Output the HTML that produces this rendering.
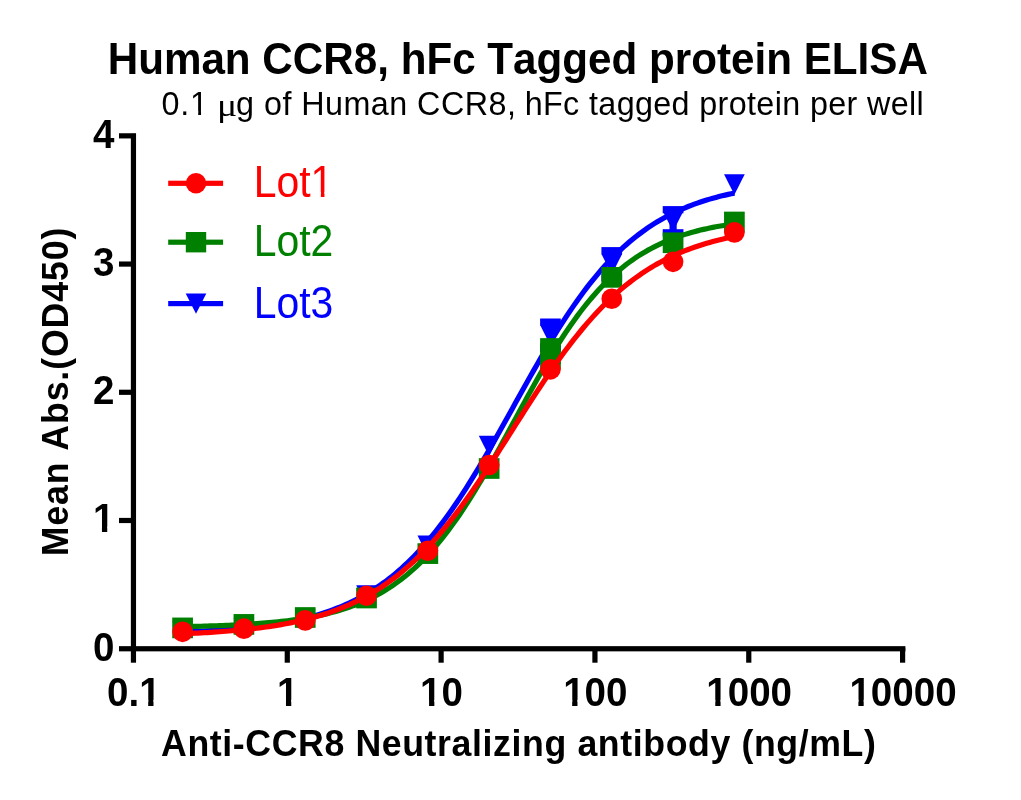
<!DOCTYPE html>
<html lang="en"><head><meta charset="utf-8"><title>Human CCR8, hFc Tagged protein ELISA</title>
<style>html,body{margin:0;padding:0;background:#fff}svg{display:block}text{font-family:"Liberation Sans",Arial,sans-serif;fill:#000;font-kerning:none}.b{font-weight:bold}</style></head><body>
<svg width="1021" height="800" viewBox="0 0 1021 800">
<rect width="1021" height="800" fill="#fff"/>
<text class="b" x="107.68" y="74.00" font-size="44.3" textLength="820.23" lengthAdjust="spacingAndGlyphs">Human CCR8, hFc Tagged protein ELISA</text>
<text y="115.2" font-size="32.3" xml:space="preserve"><tspan x="161.54" style="letter-spacing:0.8px">0.1 </tspan><tspan x="217.0" dy="1" font-size="32" textLength="20.2" lengthAdjust="spacingAndGlyphs" style="font-family:'Liberation Serif',serif">μ</tspan><tspan x="236.11" dy="-1" style="letter-spacing:0.462px">g of Human CCR8, </tspan><tspan x="524.71" style="letter-spacing:0.363px">hFc tagged protein per well</tspan></text>
<rect x="191.74" y="111.09" width="6.46" height="5.01" fill="#fff"/>
<rect x="201.05" y="111.09" width="6.21" height="5.01" fill="#fff"/>
<g fill="#0000ff" stroke="none">
<path d="M182.60 631.99 L185.68 631.87 L188.77 631.75 L191.85 631.62 L194.93 631.48 L198.01 631.33 L201.10 631.18 L204.18 631.02 L207.26 630.86 L210.34 630.68 L213.43 630.50 L216.51 630.31 L219.59 630.10 L222.67 629.89 L225.76 629.67 L228.84 629.44 L231.92 629.19 L235.00 628.93 L238.09 628.67 L241.17 628.38 L244.25 628.09 L247.34 627.78 L250.42 627.45 L253.50 627.11 L256.58 626.75 L259.67 626.37 L262.75 625.98 L265.83 625.57 L268.91 625.14 L272.00 624.68 L275.08 624.21 L278.16 623.71 L281.24 623.19 L284.33 622.64 L287.41 622.07 L290.49 621.47 L293.57 620.84 L296.66 620.19 L299.74 619.50 L302.82 618.78 L305.91 618.02 L308.99 617.23 L312.07 616.41 L315.15 615.55 L318.24 614.64 L321.32 613.70 L324.40 612.71 L327.48 611.68 L330.57 610.60 L333.65 609.48 L336.73 608.30 L339.81 607.07 L342.90 605.79 L345.98 604.45 L349.06 603.05 L352.14 601.60 L355.23 600.08 L358.31 598.49 L361.39 596.84 L364.47 595.13 L367.56 593.34 L370.64 591.47 L373.72 589.53 L376.81 587.52 L379.89 585.42 L382.97 583.24 L386.05 580.98 L389.14 578.64 L392.22 576.20 L395.30 573.67 L398.38 571.05 L401.47 568.34 L404.55 565.53 L407.63 562.63 L410.71 559.62 L413.80 556.52 L416.88 553.31 L419.96 550.00 L423.04 546.59 L426.13 543.07 L429.21 539.45 L432.29 535.73 L435.38 531.90 L438.46 527.96 L441.54 523.93 L444.62 519.79 L447.71 515.54 L450.79 511.20 L453.87 506.76 L456.95 502.23 L460.04 497.60 L463.12 492.87 L466.20 488.07 L469.28 483.17 L472.37 478.20 L475.45 473.15 L478.53 468.02 L481.61 462.83 L484.70 457.58 L487.78 452.27 L490.86 446.91 L493.95 441.50 L497.03 436.05 L500.11 430.56 L503.19 425.05 L506.28 419.52 L509.36 413.98 L512.44 408.42 L515.52 402.86 L518.61 397.31 L521.69 391.77 L524.77 386.25 L527.85 380.76 L530.94 375.29 L534.02 369.86 L537.10 364.48 L540.18 359.14 L543.27 353.86 L546.35 348.64 L549.43 343.49 L552.52 338.40 L555.60 333.39 L558.68 328.46 L561.76 323.61 L564.85 318.85 L567.93 314.17 L571.01 309.59 L574.09 305.11 L577.18 300.72 L580.26 296.43 L583.34 292.25 L586.42 288.16 L589.51 284.18 L592.59 280.30 L595.67 276.53 L598.75 272.86 L601.84 269.29 L604.92 265.83 L608.00 262.48 L611.08 259.22 L614.17 256.07 L617.25 253.02 L620.33 250.07 L623.42 247.21 L626.50 244.46 L629.58 241.79 L632.66 239.23 L635.75 236.75 L638.83 234.36 L641.91 232.06 L644.99 229.84 L648.08 227.71 L651.16 225.66 L654.24 223.68 L657.32 221.78 L660.41 219.96 L663.49 218.21 L666.57 216.53 L669.65 214.91 L672.74 213.36 L675.82 211.88 L678.90 210.45 L681.99 209.09 L685.07 207.78 L688.15 206.53 L691.23 205.33 L694.32 204.18 L697.40 203.08 L700.48 202.02 L703.56 201.02 L706.65 200.05 L709.73 199.13 L712.81 198.25 L715.89 197.41 L718.98 196.60 L722.06 195.83 L725.14 195.10 L728.22 194.39 L731.31 193.72 L734.39 193.08" fill="none" stroke="#0000ff" stroke-width="5.2" stroke-linejoin="round"/>
<rect x="546.86" y="322.10" width="7.20" height="26.40"/>
<rect x="540.11" y="318.50" width="20.7" height="7.20"/>
<rect x="540.11" y="344.90" width="20.7" height="7.20"/>
<rect x="608.17" y="250.70" width="7.20" height="27.10"/>
<rect x="601.42" y="247.10" width="20.7" height="7.20"/>
<rect x="601.42" y="274.20" width="20.7" height="7.20"/>
<rect x="669.48" y="209.70" width="7.20" height="23.10"/>
<rect x="662.73" y="206.10" width="20.7" height="7.20"/>
<rect x="662.73" y="229.20" width="20.7" height="7.20"/>
<path d="M172.25 621.35 h20.7 l-10.35 20.5z"/>
<path d="M233.56 618.15 h20.7 l-10.35 20.5z"/>
<path d="M294.87 609.75 h20.7 l-10.35 20.5z"/>
<path d="M356.18 585.15 h20.7 l-10.35 20.5z"/>
<path d="M417.49 535.45 h20.7 l-10.35 20.5z"/>
<path d="M478.80 435.80 h20.7 l-10.35 20.5z"/>
<path d="M540.11 325.05 h20.7 l-10.35 20.5z"/>
<path d="M601.42 254.00 h20.7 l-10.35 20.5z"/>
<path d="M662.73 211.00 h20.7 l-10.35 20.5z"/>
<path d="M724.04 174.15 h20.7 l-10.35 20.5z"/>
</g>
<g fill="#008000" stroke="none">
<path d="M182.60 626.66 L185.68 626.60 L188.77 626.54 L191.85 626.47 L194.93 626.40 L198.01 626.32 L201.10 626.24 L204.18 626.15 L207.26 626.06 L210.34 625.97 L213.43 625.86 L216.51 625.76 L219.59 625.64 L222.67 625.53 L225.76 625.40 L228.84 625.27 L231.92 625.13 L235.00 624.98 L238.09 624.82 L241.17 624.66 L244.25 624.48 L247.34 624.30 L250.42 624.10 L253.50 623.90 L256.58 623.68 L259.67 623.45 L262.75 623.21 L265.83 622.95 L268.91 622.69 L272.00 622.40 L275.08 622.10 L278.16 621.79 L281.24 621.45 L284.33 621.10 L287.41 620.73 L290.49 620.34 L293.57 619.92 L296.66 619.49 L299.74 619.03 L302.82 618.54 L305.91 618.03 L308.99 617.50 L312.07 616.93 L315.15 616.33 L318.24 615.70 L321.32 615.04 L324.40 614.34 L327.48 613.61 L330.57 612.83 L333.65 612.02 L336.73 611.16 L339.81 610.26 L342.90 609.31 L345.98 608.31 L349.06 607.26 L352.14 606.16 L355.23 605.00 L358.31 603.79 L361.39 602.51 L364.47 601.17 L367.56 599.76 L370.64 598.29 L373.72 596.74 L376.81 595.12 L379.89 593.42 L382.97 591.65 L386.05 589.79 L389.14 587.84 L392.22 585.81 L395.30 583.68 L398.38 581.46 L401.47 579.14 L404.55 576.72 L407.63 574.21 L410.71 571.58 L413.80 568.85 L416.88 566.01 L419.96 563.05 L423.04 559.99 L426.13 556.80 L429.21 553.50 L432.29 550.08 L435.38 546.54 L438.46 542.88 L441.54 539.10 L444.62 535.20 L447.71 531.18 L450.79 527.04 L453.87 522.79 L456.95 518.41 L460.04 513.92 L463.12 509.32 L466.20 504.61 L469.28 499.79 L472.37 494.87 L475.45 489.86 L478.53 484.75 L481.61 479.55 L484.70 474.28 L487.78 468.93 L490.86 463.51 L493.95 458.03 L497.03 452.50 L500.11 446.92 L503.19 441.31 L506.28 435.66 L509.36 430.00 L512.44 424.32 L515.52 418.64 L518.61 412.96 L521.69 407.30 L524.77 401.66 L527.85 396.05 L530.94 390.48 L534.02 384.95 L537.10 379.48 L540.18 374.07 L543.27 368.73 L546.35 363.47 L549.43 358.29 L552.52 353.20 L555.60 348.19 L558.68 343.29 L561.76 338.49 L564.85 333.80 L567.93 329.21 L571.01 324.74 L574.09 320.38 L577.18 316.14 L580.26 312.02 L583.34 308.01 L586.42 304.13 L589.51 300.37 L592.59 296.73 L595.67 293.21 L598.75 289.81 L601.84 286.53 L604.92 283.36 L608.00 280.31 L611.08 277.37 L614.17 274.55 L617.25 271.83 L620.33 269.23 L623.42 266.72 L626.50 264.32 L629.58 262.02 L632.66 259.81 L635.75 257.70 L638.83 255.68 L641.91 253.75 L644.99 251.90 L648.08 250.13 L651.16 248.45 L654.24 246.84 L657.32 245.30 L660.41 243.84 L663.49 242.44 L666.57 241.11 L669.65 239.85 L672.74 238.64 L675.82 237.49 L678.90 236.40 L681.99 235.36 L685.07 234.37 L688.15 233.42 L691.23 232.53 L694.32 231.68 L697.40 230.87 L700.48 230.10 L703.56 229.37 L706.65 228.68 L709.73 228.02 L712.81 227.40 L715.89 226.81 L718.98 226.24 L722.06 225.71 L725.14 225.20 L728.22 224.72 L731.31 224.27 L734.39 223.83" fill="none" stroke="#008000" stroke-width="5.2" stroke-linejoin="round"/>
<rect x="546.86" y="341.75" width="7.20" height="23.50"/>
<rect x="540.11" y="338.15" width="20.7" height="7.20"/>
<rect x="540.11" y="361.65" width="20.7" height="7.20"/>
<rect x="172.25" y="617.55" width="20.7" height="20.7"/>
<rect x="233.56" y="614.05" width="20.7" height="20.7"/>
<rect x="294.87" y="607.15" width="20.7" height="20.7"/>
<rect x="356.18" y="587.65" width="20.7" height="20.7"/>
<rect x="417.49" y="543.25" width="20.7" height="20.7"/>
<rect x="478.80" y="458.15" width="20.7" height="20.7"/>
<rect x="540.11" y="343.15" width="20.7" height="20.7"/>
<rect x="601.42" y="267.00" width="20.7" height="20.7"/>
<rect x="662.73" y="232.40" width="20.7" height="20.7"/>
<rect x="724.04" y="211.65" width="20.7" height="20.7"/>
</g>
<g fill="#ff0000" stroke="none">
<path d="M182.60 633.75 L185.68 633.62 L188.77 633.49 L191.85 633.35 L194.93 633.20 L198.01 633.04 L201.10 632.88 L204.18 632.71 L207.26 632.53 L210.34 632.35 L213.43 632.15 L216.51 631.95 L219.59 631.74 L222.67 631.51 L225.76 631.28 L228.84 631.03 L231.92 630.78 L235.00 630.51 L238.09 630.23 L241.17 629.93 L244.25 629.62 L247.34 629.30 L250.42 628.96 L253.50 628.61 L256.58 628.24 L259.67 627.86 L262.75 627.45 L265.83 627.03 L268.91 626.59 L272.00 626.13 L275.08 625.64 L278.16 625.14 L281.24 624.61 L284.33 624.06 L287.41 623.48 L290.49 622.88 L293.57 622.25 L296.66 621.59 L299.74 620.90 L302.82 620.18 L305.91 619.43 L308.99 618.65 L312.07 617.83 L315.15 616.98 L318.24 616.09 L321.32 615.16 L324.40 614.19 L327.48 613.18 L330.57 612.13 L333.65 611.03 L336.73 609.89 L339.81 608.70 L342.90 607.45 L345.98 606.16 L349.06 604.82 L352.14 603.42 L355.23 601.96 L358.31 600.45 L361.39 598.87 L364.47 597.24 L367.56 595.54 L370.64 593.77 L373.72 591.94 L376.81 590.04 L379.89 588.07 L382.97 586.03 L386.05 583.91 L389.14 581.72 L392.22 579.45 L395.30 577.10 L398.38 574.67 L401.47 572.16 L404.55 569.57 L407.63 566.90 L410.71 564.13 L413.80 561.29 L416.88 558.36 L419.96 555.34 L423.04 552.23 L426.13 549.04 L429.21 545.75 L432.29 542.38 L435.38 538.92 L438.46 535.38 L441.54 531.75 L444.62 528.03 L447.71 524.23 L450.79 520.35 L453.87 516.39 L456.95 512.35 L460.04 508.23 L463.12 504.03 L466.20 499.77 L469.28 495.44 L472.37 491.04 L475.45 486.58 L478.53 482.06 L481.61 477.49 L484.70 472.87 L487.78 468.20 L490.86 463.49 L493.95 458.75 L497.03 453.97 L500.11 449.17 L503.19 444.34 L506.28 439.50 L509.36 434.65 L512.44 429.80 L515.52 424.94 L518.61 420.09 L521.69 415.25 L524.77 410.42 L527.85 405.62 L530.94 400.84 L534.02 396.09 L537.10 391.38 L540.18 386.71 L543.27 382.09 L546.35 377.51 L549.43 372.99 L552.52 368.53 L555.60 364.13 L558.68 359.79 L561.76 355.52 L564.85 351.33 L567.93 347.20 L571.01 343.16 L574.09 339.19 L577.18 335.30 L580.26 331.50 L583.34 327.78 L586.42 324.14 L589.51 320.59 L592.59 317.13 L595.67 313.75 L598.75 310.47 L601.84 307.27 L604.92 304.15 L608.00 301.13 L611.08 298.19 L614.17 295.34 L617.25 292.57 L620.33 289.89 L623.42 287.30 L626.50 284.78 L629.58 282.35 L632.66 280.00 L635.75 277.72 L638.83 275.53 L641.91 273.41 L644.99 271.36 L648.08 269.38 L651.16 267.48 L654.24 265.64 L657.32 263.88 L660.41 262.17 L663.49 260.53 L666.57 258.96 L669.65 257.44 L672.74 255.98 L675.82 254.58 L678.90 253.23 L681.99 251.93 L685.07 250.69 L688.15 249.49 L691.23 248.35 L694.32 247.25 L697.40 246.19 L700.48 245.18 L703.56 244.21 L706.65 243.28 L709.73 242.38 L712.81 241.53 L715.89 240.71 L718.98 239.93 L722.06 239.17 L725.14 238.45 L728.22 237.76 L731.31 237.10 L734.39 236.47" fill="none" stroke="#ff0000" stroke-width="5.2" stroke-linejoin="round"/>
<circle cx="182.60" cy="631.80" r="10.35"/>
<circle cx="243.91" cy="628.70" r="10.35"/>
<circle cx="305.22" cy="620.40" r="10.35"/>
<circle cx="366.53" cy="595.75" r="10.35"/>
<circle cx="427.84" cy="550.75" r="10.35"/>
<circle cx="489.15" cy="465.00" r="10.35"/>
<circle cx="550.46" cy="369.30" r="10.35"/>
<circle cx="611.77" cy="298.75" r="10.35"/>
<circle cx="673.08" cy="261.80" r="10.35"/>
<circle cx="734.39" cy="232.40" r="10.35"/>
</g>
<g fill="#000">
<rect x="130.85" y="133.2" width="5.2" height="529.5"/>
<rect x="119" y="646.15" width="786.4" height="5.2"/>
<rect x="119" y="517.89" width="12" height="5.2"/>
<rect x="119" y="389.68" width="12" height="5.2"/>
<rect x="119" y="261.46" width="12" height="5.2"/>
<rect x="119" y="133.25" width="12" height="5.2"/>
<rect x="284.68" y="648" width="5.2" height="14.7"/>
<rect x="438.51" y="648" width="5.2" height="14.7"/>
<rect x="592.34" y="648" width="5.2" height="14.7"/>
<rect x="746.17" y="648" width="5.2" height="14.7"/>
<rect x="900.00" y="648" width="5.2" height="14.7"/>
</g>
<text class="b" x="92.94" y="660.70" font-size="40.5" textLength="21.44" lengthAdjust="spacingAndGlyphs">0</text>
<text class="b" x="92.94" y="532.49" font-size="40.5" textLength="21.44" lengthAdjust="spacingAndGlyphs">1</text>
<rect x="94.57" y="526.65" width="7.37" height="6.73" fill="#fff"/>
<rect x="107.23" y="526.65" width="6.88" height="6.73" fill="#fff"/>
<text class="b" x="92.94" y="404.28" font-size="40.5" textLength="21.44" lengthAdjust="spacingAndGlyphs">2</text>
<text class="b" x="92.94" y="276.06" font-size="40.5" textLength="21.44" lengthAdjust="spacingAndGlyphs">3</text>
<text class="b" x="92.94" y="147.85" font-size="40.5" textLength="21.44" lengthAdjust="spacingAndGlyphs">4</text>
<text class="b" x="107.05" y="705.60" font-size="40.5" textLength="53.60" lengthAdjust="spacingAndGlyphs">0.1</text>
<rect x="140.83" y="699.77" width="7.37" height="6.73" fill="#fff"/>
<rect x="153.49" y="699.77" width="6.88" height="6.73" fill="#fff"/>
<text class="b" x="276.96" y="705.60" font-size="40.5" textLength="21.44" lengthAdjust="spacingAndGlyphs">1</text>
<rect x="278.59" y="699.77" width="7.37" height="6.73" fill="#fff"/>
<rect x="291.25" y="699.77" width="6.88" height="6.73" fill="#fff"/>
<text class="b" x="420.07" y="705.60" font-size="40.5" textLength="42.88" lengthAdjust="spacingAndGlyphs">10</text>
<rect x="421.70" y="699.77" width="7.37" height="6.73" fill="#fff"/>
<rect x="434.36" y="699.77" width="6.88" height="6.73" fill="#fff"/>
<text class="b" x="563.18" y="705.60" font-size="40.5" textLength="64.33" lengthAdjust="spacingAndGlyphs">100</text>
<rect x="564.81" y="699.77" width="7.37" height="6.73" fill="#fff"/>
<rect x="577.47" y="699.77" width="6.88" height="6.73" fill="#fff"/>
<text class="b" x="706.29" y="705.60" font-size="40.5" textLength="85.77" lengthAdjust="spacingAndGlyphs">1000</text>
<rect x="707.91" y="699.77" width="7.37" height="6.73" fill="#fff"/>
<rect x="720.57" y="699.77" width="6.88" height="6.73" fill="#fff"/>
<text class="b" x="849.40" y="705.60" font-size="40.5" textLength="107.21" lengthAdjust="spacingAndGlyphs">10000</text>
<rect x="851.02" y="699.77" width="7.37" height="6.73" fill="#fff"/>
<rect x="863.68" y="699.77" width="6.88" height="6.73" fill="#fff"/>
<text class="b" transform="translate(161.08 756.2) scale(0.962 1)" font-size="37.1" textLength="742.99" lengthAdjust="spacing">Anti-CCR8 Neutralizing antibody (ng/mL)</text>
<text class="b" transform="translate(68 556.29) rotate(-90) scale(0.962 1)" x="0" y="0" font-size="37.1" textLength="341.63" lengthAdjust="spacing">Mean Abs.(OD450)</text>
<rect x="168.2" y="180.70" width="54.9" height="5.2" fill="#ff0000"/>
<circle cx="196" cy="183.30" r="10.2" fill="#ff0000"/>
<text x="253.64" y="197.00" font-size="43.6" textLength="79.67" lengthAdjust="spacingAndGlyphs" style="fill:#ff0000">Lot1</text>
<rect x="312.87" y="192.04" width="7.98" height="5.86" fill="#fff"/>
<rect x="324.46" y="192.04" width="7.66" height="5.86" fill="#fff"/>
<rect x="168.2" y="239.60" width="54.9" height="5.2" fill="#008000"/>
<rect x="185.8" y="232.00" width="20.4" height="20.4" fill="#008000"/>
<text x="253.64" y="256.00" font-size="43.6" textLength="79.67" lengthAdjust="spacingAndGlyphs" style="fill:#008000">Lot2</text>
<rect x="168.2" y="301.00" width="54.9" height="5.2" fill="#0000ff"/>
<path d="M185.7 293.40 h20.6 l-10.3 20.4z" fill="#0000ff"/>
<text x="253.64" y="317.75" font-size="43.6" textLength="79.67" lengthAdjust="spacingAndGlyphs" style="fill:#0000ff">Lot3</text>
</svg></body></html>
